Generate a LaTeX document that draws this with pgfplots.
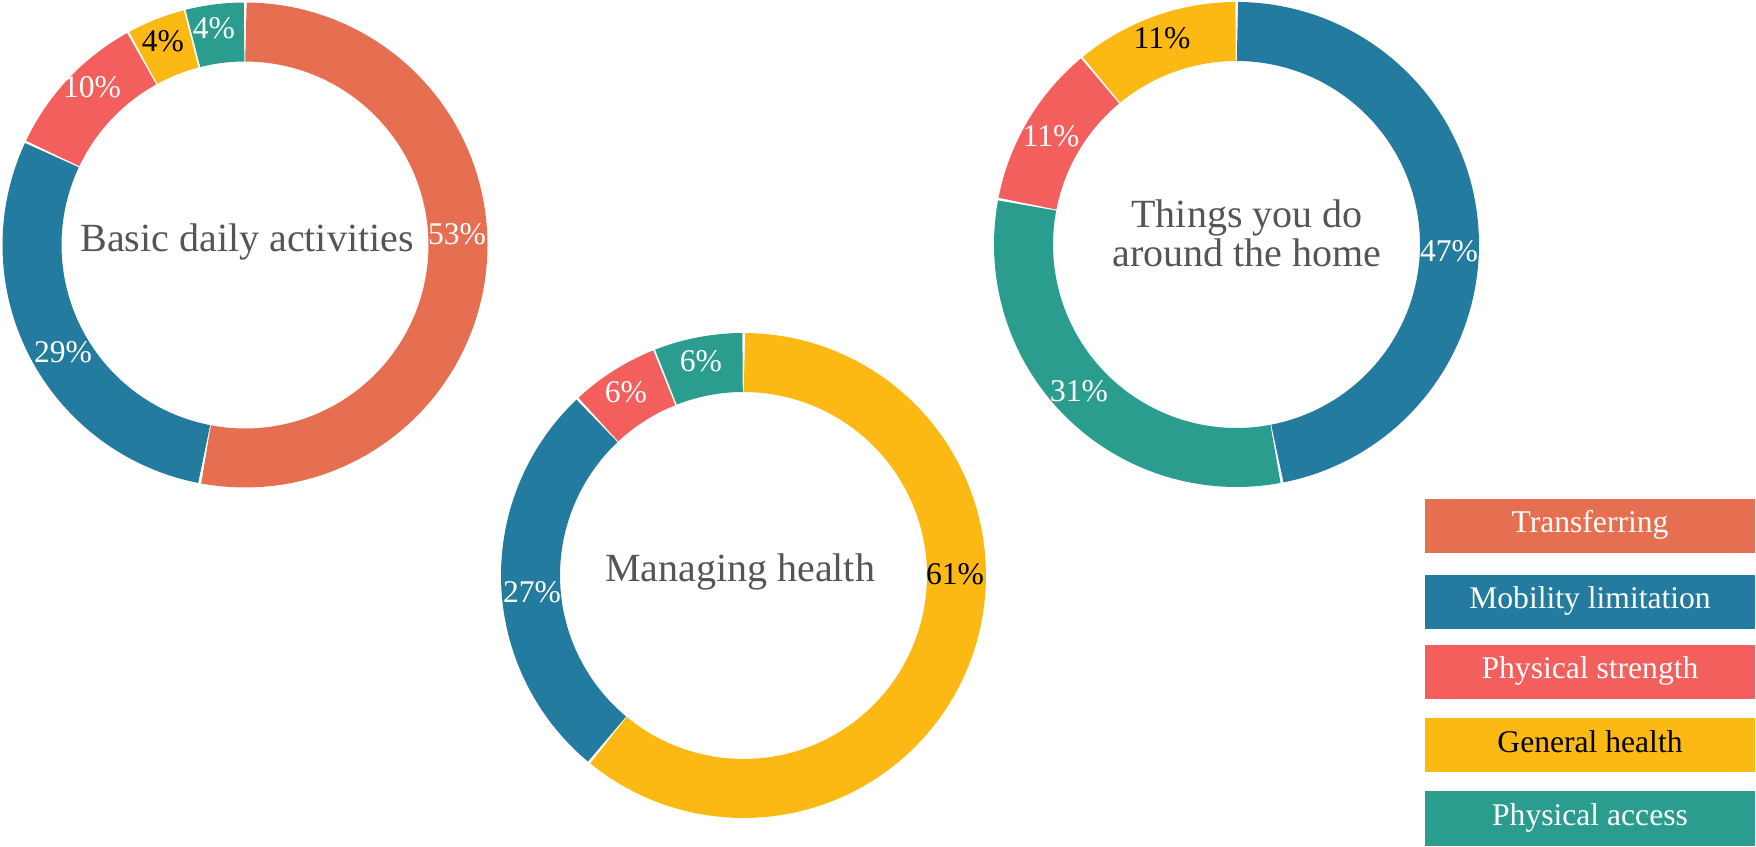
\documentclass[border=0pt]{standalone}
\usepackage{pgfplots}
\pgfplotsset{compat=1.18}
\usepackage{fontspec}
\setmainfont{Liberation Serif}
\definecolor{cTr}{HTML}{E76F51}
\definecolor{cMo}{HTML}{247BA0}
\definecolor{cPs}{HTML}{F25F5C}
\definecolor{cGh}{HTML}{FDB913}
\definecolor{cPa}{HTML}{2A9D8F}
\definecolor{ctitle}{HTML}{555555}
\newcommand{\lab}{\fontsize{15.8pt}{19pt}\selectfont}
\newcommand{\ttl}{\fontsize{20pt}{24pt}\selectfont}
% \slice{cx}{cy}{start percent}{value percent}{colour}
\newcommand{\slice}[5]{%
  \addplot[draw=#5, line width=29.5pt, line cap=butt, no markers, samples=90,
    variable=\t, domain={#3+0.07}:{#3+#4-0.07}]
    ({#1+213*cos(90-3.6*\t)}, {#2+213*sin(90-3.6*\t)});
}
\begin{document}
\begin{tikzpicture}
\begin{axis}[x=0.5pt, y=0.5pt, xmin=0, xmax=1756, ymin=0, ymax=846,
  hide axis, clip=false, scale only axis]
\coordinate (bl) at (rel axis cs:0,0);
\coordinate (tr) at (rel axis cs:1,1);
% Basic daily activities: 53, 29, 10, 4, 4
\slice{245}{601}{0}{53}{cTr}
\slice{245}{601}{53}{29}{cMo}
\slice{245}{601}{82}{10}{cPs}
\slice{245}{601}{92}{4}{cGh}
\slice{245}{601}{96}{4}{cPa}
% Managing health: 61, 27, 6, 6
\slice{743.5}{270.5}{0}{61}{cGh}
\slice{743.5}{270.5}{61}{27}{cMo}
\slice{743.5}{270.5}{88}{6}{cPs}
\slice{743.5}{270.5}{94}{6}{cPa}
% Things you do around the home: 47, 31, 11, 11
\slice{1236.5}{601.5}{0}{47}{cMo}
\slice{1236.5}{601.5}{47}{31}{cPa}
\slice{1236.5}{601.5}{78}{11}{cPs}
\slice{1236.5}{601.5}{89}{11}{cGh}
% percentage labels
\node[text=white, font=\lab] at (457,612) {53\%};
\node[text=white, font=\lab] at (63,494) {29\%};
\node[text=white, font=\lab] at (92,759) {10\%};
\node[text=black, font=\lab] at (163,805) {4\%};
\node[text=white, font=\lab] at (214,818) {4\%};
\node[text=black, font=\lab] at (955,272) {61\%};
\node[text=white, font=\lab] at (532,254) {27\%};
\node[text=white, font=\lab] at (626,454) {6\%};
\node[text=white, font=\lab] at (701,485) {6\%};
\node[text=white, font=\lab] at (1449,595) {47\%};
\node[text=white, font=\lab] at (1079,455) {31\%};
\node[text=white, font=\lab] at (1051,710) {11\%};
\node[text=black, font=\lab] at (1162,808) {11\%};
% centre titles
\node[text=ctitle, font=\ttl, anchor=base, inner sep=0pt] at (247,594) {Basic daily activities};
\node[text=ctitle, font=\ttl, anchor=base, inner sep=0pt] at (740,264) {Managing health};
\node[text=ctitle, font=\ttl, anchor=base, inner sep=0pt] at (1247,618) {Things you do};
\node[text=ctitle, font=\ttl, anchor=base, inner sep=0pt] at (1247,579) {around the home};
% legend
\tikzset{leg/.style={minimum width=165pt, minimum height=27pt, inner sep=0pt,
  text height=0.66em, text depth=0pt, font=\lab}}
\node[leg, fill=cTr, text=white] at (1590,320) {Transferring};
\node[leg, fill=cMo, text=white] at (1590,244) {Mobility limitation};
\node[leg, fill=cPs, text=white] at (1590,174) {Physical strength};
\node[leg, fill=cGh, text=black] at (1590,100.5) {General health};
\node[leg, fill=cPa, text=white] at (1590,27.5) {Physical access};
\end{axis}
\pgfresetboundingbox
\path (bl) rectangle (tr);
\end{tikzpicture}
\end{document}
